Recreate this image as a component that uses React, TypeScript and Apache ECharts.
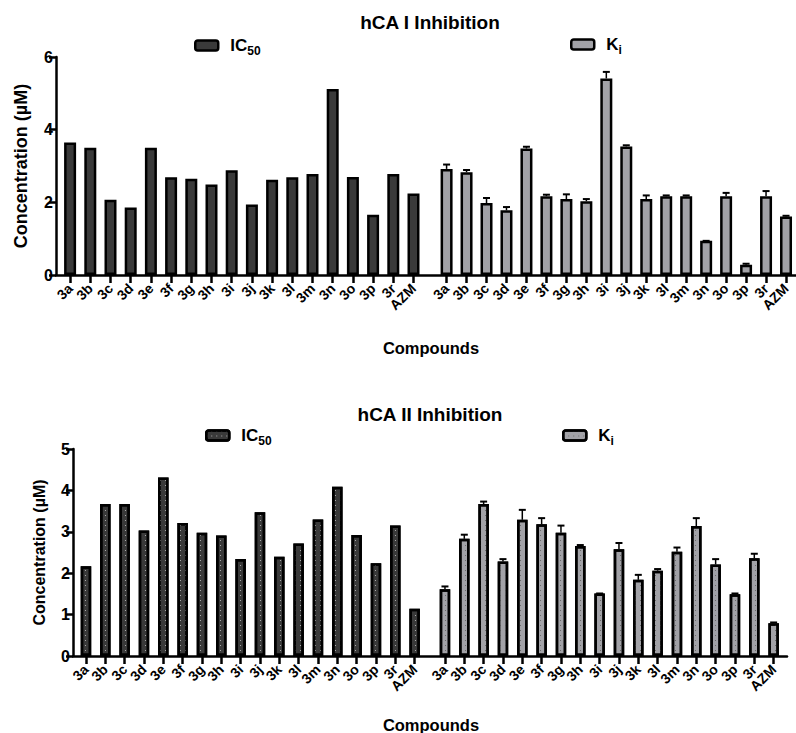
import React, { useEffect, useRef } from "react";
import * as echarts from "echarts";

const categories = ["3a", "3b", "3c", "3d", "3e", "3f", "3g", "3h", "3i", "3j", "3k", "3l", "3m", "3n", "3o", "3p", "3r", "AZM"];

// hCA I
const ic50I = [3.65, 3.5, 2.07, 1.86, 3.5, 2.69, 2.65, 2.49, 2.88, 1.94, 2.62, 2.69, 2.78, 5.12, 2.7, 1.66, 2.78, 2.24];
const kiI = [2.92, 2.83, 1.98, 1.78, 3.48, 2.17, 2.09, 2.03, 5.41, 3.54, 2.09, 2.17, 2.17, 0.94, 2.17, 0.28, 2.17, 1.61];
const kiErrI = [0.12, 0.06, 0.14, 0.09, 0.05, 0.04, 0.13, 0.06, 0.18, 0.03, 0.1, 0.02, 0.02, 0.0, 0.09, 0.03, 0.14, 0.02];

// hCA II
const ic50II = [2.17, 3.67, 3.67, 3.03, 4.31, 3.21, 2.98, 2.91, 2.34, 3.47, 2.4, 2.72, 3.3, 4.09, 2.92, 2.24, 3.15, 1.14];
const kiII = [1.61, 2.83, 3.67, 2.28, 3.29, 3.18, 2.98, 2.66, 1.51, 2.58, 1.84, 2.06, 2.52, 3.14, 2.21, 1.49, 2.36, 0.79];
const kiErrII = [0.07, 0.1, 0.06, 0.06, 0.24, 0.15, 0.17, 0.02, 0.0, 0.15, 0.12, 0.04, 0.1, 0.19, 0.13, 0.02, 0.11, 0.02];

const yTicksI = { min: 0, max: 6, interval: 2 };
const yTicksII = { min: 0, max: 5, interval: 1 };

const FONT = "'Liberation Sans', Arial, sans-serif";
const DARK = "#3a3a3a";
const LIGHT = "#a2a2a7";

function errorRender(params: any, api: any) {
  const x = api.value(0);
  const v = api.value(1);
  const e = api.value(2);
  const p0 = api.coord([x, v]);
  const p1 = api.coord([x, v + e]);
  const hw = 3.5;
  return {
    type: "group",
    children: [
      { type: "line", shape: { x1: p0[0], y1: p0[1], x2: p1[0], y2: p1[1] }, style: { stroke: "#000", lineWidth: 1.5 } },
      { type: "line", shape: { x1: p1[0] - hw, y1: p1[1], x2: p1[0] + hw, y2: p1[1] }, style: { stroke: "#000", lineWidth: 2 } },
    ],
  };
}

export default function App() {
  const ref = useRef<HTMLDivElement>(null);
  useEffect(() => {
    if (!ref.current) return;
    const chart = echarts.init(ref.current, null, { renderer: "svg" });

    const topG = { top: 57, height: 218 };
    const botG = { top: 449, height: 207 };

    const grids = [
      { left: 60, width: 363.6, ...topG },
      { left: 436.6, width: 363.6, ...topG },
      { left: 56, width: 740, ...topG },
      { left: 76.3, width: 348, ...botG },
      { left: 435.3, width: 348, ...botG },
      { left: 73, width: 714, ...botG },
    ];

    const catAxis = (gi: number) => ({
      type: "category",
      gridIndex: gi,
      data: categories,
      axisLine: { show: false },
      axisTick: { show: true, alignWithLabel: true, length: 8, lineStyle: { color: "#000", width: 2.5 } },
      axisLabel: { rotate: 45, margin: 11, color: "#000", fontWeight: "bold", fontSize: 14, fontFamily: FONT, interval: 0 },
      splitLine: { show: false },
    });
    const frameX = (gi: number) => ({
      type: "value",
      gridIndex: gi,
      min: 0,
      max: 1,
      axisLine: { show: true, lineStyle: { color: "#000", width: 2.5 } },
      axisTick: { show: false },
      axisLabel: { show: false },
      splitLine: { show: false },
    });
    const hiddenY = (gi: number, t: any) => ({ type: "value", gridIndex: gi, ...t, show: false, splitLine: { show: false } });
    const frameY = (gi: number, t: any, fs: number, gap: number) => ({
      type: "value",
      gridIndex: gi,
      ...t,
      name: "Concentration (µM)",
      nameLocation: "middle",
      nameGap: gap,
      nameTextStyle: { color: "#000", fontWeight: "bold", fontSize: fs, fontFamily: FONT },
      axisLine: { show: true, lineStyle: { color: "#000", width: 2.5 } },
      axisTick: { show: true, length: 7, lineStyle: { color: "#000", width: 2.5 } },
      axisLabel: { color: "#000", fontWeight: "bold", fontSize: 16, fontFamily: FONT, margin: 3 },
      splitLine: { show: false },
    });

    const barStyle = (color: string, decal?: any) => ({
      color,
      borderColor: "#000",
      borderWidth: 2.5,
      ...(decal ? { decal } : {}),
    });
    const decalLight = { symbol: "rect", symbolSize: 1, color: "#a8a8a8", dashArrayX: [1, 4], dashArrayY: [1, 4], rotation: 0 };
    const decalDark = { symbol: "rect", symbolSize: 1, color: "#6a6a6a", dashArrayX: [1, 4], dashArrayY: [1, 4], rotation: 0 };

    const legendRich = {
      m: { fontSize: 17, fontWeight: "bold", color: "#000", fontFamily: FONT, lineHeight: 22, padding: [0, 0, 0, 7] },
      s: { fontSize: 12, fontWeight: "bold", color: "#000", fontFamily: FONT, lineHeight: 11, verticalAlign: "bottom" },
    };
    const mkLegend = (name: string, left: number, top: number, main: string, sub: string) => ({
      data: [name],
      left,
      top,
      padding: 0,
      itemWidth: 23,
      itemHeight: 10,
      selectedMode: false,
      itemStyle: { borderColor: "#000", borderWidth: 2.5 },
      formatter: () => `{m|${main}}{s|${sub}}`,
      textStyle: { rich: legendRich },
    });

    const titleStyle = { color: "#000", fontWeight: "bold", fontFamily: FONT };

    chart.setOption({
      animation: false,
      title: [
        { text: "hCA I Inhibition", left: 430, top: 13, textAlign: "center", textStyle: { ...titleStyle, fontSize: 19 }, padding: 0 },
        { text: "hCA II Inhibition", left: 430, top: 405, textAlign: "center", textStyle: { ...titleStyle, fontSize: 19 }, padding: 0 },
        { text: "Compounds", left: 431, top: 339, textAlign: "center", textStyle: { ...titleStyle, fontSize: 16.5 }, padding: 0 },
        { text: "Compounds", left: 431, top: 716, textAlign: "center", textStyle: { ...titleStyle, fontSize: 16.5 }, padding: 0 },
      ],
      legend: [
        mkLegend("IC50 I", 194, 37, "IC", "50"),
        mkLegend("Ki I", 570, 36, "K", "i"),
        mkLegend("IC50 II", 205, 427, "IC", "50"),
        mkLegend("Ki II", 562, 427, "K", "i"),
      ],
      grid: grids,
      xAxis: [catAxis(0), catAxis(1), frameX(2), catAxis(3), catAxis(4), frameX(5)],
      yAxis: [
        hiddenY(0, yTicksI),
        hiddenY(1, yTicksI),
        frameY(2, yTicksI, 18, 26),
        hiddenY(3, yTicksII),
        hiddenY(4, yTicksII),
        frameY(5, yTicksII, 16, 26),
      ],
      series: [
        { name: "IC50 I", type: "bar", xAxisIndex: 0, yAxisIndex: 0, data: ic50I, barWidth: 12, itemStyle: barStyle(DARK) },
        { name: "Ki I", type: "bar", xAxisIndex: 1, yAxisIndex: 1, data: kiI, barWidth: 12, itemStyle: barStyle(LIGHT) },
        {
          name: "Ki I err",
          type: "custom",
          xAxisIndex: 1,
          yAxisIndex: 1,
          data: kiI.map((v, i) => [i, v, kiErrI[i]]),
          encode: { x: 0, y: 1 },
          renderItem: errorRender,
          z: 3,
        },
        { name: "IC50 II", type: "bar", xAxisIndex: 3, yAxisIndex: 3, data: ic50II, barWidth: 10.5, itemStyle: barStyle(DARK, decalLight) },
        { name: "Ki II", type: "bar", xAxisIndex: 4, yAxisIndex: 4, data: kiII, barWidth: 10.5, itemStyle: barStyle(LIGHT, decalDark) },
        {
          name: "Ki II err",
          type: "custom",
          xAxisIndex: 4,
          yAxisIndex: 4,
          data: kiII.map((v, i) => [i, v, kiErrII[i]]),
          encode: { x: 0, y: 1 },
          renderItem: errorRender,
          z: 3,
        },
      ],
    });
    return () => chart.dispose();
  }, []);
  return <div ref={ref} style={{ position: "fixed", left: 0, top: 0, width: 796, height: 733, background: "#fff" }} />;
}
